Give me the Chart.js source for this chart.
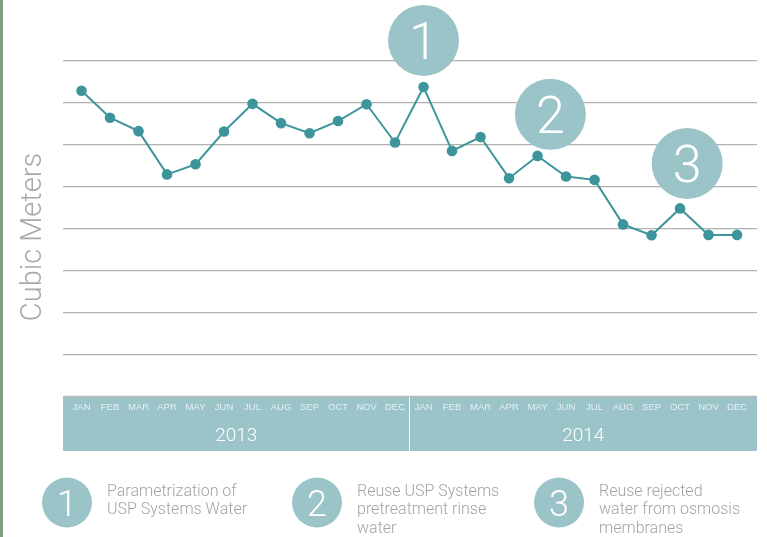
<!DOCTYPE html>
<html>
<head>
<meta charset="utf-8">
<title>Water consumption</title>
<script src="https://cdn.jsdelivr.net/npm/chart.js@4.4.1/dist/chart.umd.min.js"></script>
<style>
    html, body { margin: 0; padding: 0; background: #ffffff; }
    #wrap { position: relative; width: 767px; height: 537px; }
</style>
</head>
<body>
<div id="wrap"><canvas id="usageChart" width="767" height="537"></canvas></div>
<script>
// Monthly water usage, 2013 - 2014
const months = ['JAN', 'FEB', 'MAR', 'APR', 'MAY', 'JUN', 'JUL', 'AUG', 'SEP', 'OCT', 'NOV', 'DEC'];
const years = ['2013', '2014'];
const usage2013 = [7.29, 6.65, 6.33, 5.30, 5.54, 6.32, 6.98, 6.52, 6.28, 6.57, 6.97, 6.06];
const usage2014 = [7.38, 5.86, 6.19, 5.21, 5.74, 5.25, 5.17, 4.11, 3.85, 4.49, 3.86, 3.86];

// Milestones: month index along the axis and level on the value scale
const milestoneAt = [12, 16.45, 21.25];
const milestoneLevel = [8.49, 6.73, 5.56];
const milestoneNotes = [
    ['Parametrization of', 'USP Systems Water'],
    ['Reuse USP Systems', 'pretreatment rinse', 'water'],
    ['Reuse rejected', 'water from osmosis', 'membranes']
];

const TEAL = '#3d959b';
const BUBBLE = '#9bc4c9';
const LIGHT_FONT = 'Roboto, "Liberation Sans", sans-serif';

const points = usage2013.concat(usage2014).map((v, i) => ({ x: i, y: v }));

// Draws the month/year band, axis title, milestone bubbles and the notes row
const decorations = {
    id: 'decorations',
    afterDraw(chart) {
        const ctx = chart.ctx;
        const area = chart.chartArea;
        const xs = chart.scales.x;
        const ys = chart.scales.y;

        ctx.save();

        // thin green edge on the left
        ctx.fillStyle = '#7f9f84';
        ctx.fillRect(0, 0, 3, chart.height);

        // month band under the plot
        const bandTop = area.bottom;
        const bandBottom = 451;
        ctx.fillStyle = BUBBLE;
        ctx.fillRect(area.left, bandTop, area.right - area.left, bandBottom - bandTop);
        ctx.strokeStyle = '#b8b8b8';
        ctx.lineWidth = 1.5;
        ctx.beginPath();
        ctx.moveTo(area.left, bandTop - 0.5);
        ctx.lineTo(area.right, bandTop - 0.5);
        ctx.stroke();

        // divider between the two years
        const mid = Math.round(xs.getPixelForValue(months.length - 0.5)) + 0.5;
        ctx.strokeStyle = '#ffffff';
        ctx.lineWidth = 1;
        ctx.beginPath();
        ctx.moveTo(mid, bandTop);
        ctx.lineTo(mid, bandBottom);
        ctx.stroke();

        // month labels
        ctx.fillStyle = 'rgba(255,255,255,0.75)';
        ctx.font = '9.5px "Liberation Sans", Arial, sans-serif';
        ctx.textAlign = 'center';
        ctx.textBaseline = 'alphabetic';
        years.forEach((yr, yi) => {
            months.forEach((m, mi) => {
                const px = xs.getPixelForValue(yi * months.length + mi);
                ctx.fillText(m, px, 410);
            });
        });

        // year labels, centred in each half of the band
        ctx.fillStyle = '#ffffff';
        ctx.font = '300 19px ' + LIGHT_FONT;
        const halves = [[area.left, mid], [mid, area.right]];
        years.forEach((yr, yi) => {
            ctx.fillText(yr, (halves[yi][0] + halves[yi][1]) / 2, 441);
        });

        // y axis title
        ctx.save();
        ctx.translate(34, 237);
        ctx.rotate(-Math.PI / 2);
        ctx.fillStyle = '#a9a9a9';
        ctx.font = '300 29px ' + LIGHT_FONT;
        ctx.textAlign = 'center';
        ctx.textBaseline = 'middle';
        ctx.fillText('Cubic Meters', 0, 0);
        ctx.restore();

        // milestone bubbles above the line
        milestoneAt.forEach((at, i) => {
            const cx = xs.getPixelForValue(at);
            const cy = ys.getPixelForValue(milestoneLevel[i]);
            ctx.fillStyle = BUBBLE;
            ctx.beginPath();
            ctx.arc(cx, cy, 35.5, 0, Math.PI * 2);
            ctx.fill();
            ctx.fillStyle = '#ffffff';
            ctx.font = '300 52px ' + LIGHT_FONT;
            ctx.textAlign = 'center';
            ctx.textBaseline = 'alphabetic';
            ctx.fillText(String(i + 1), cx, cy + 18.5);
        });

        // notes row at the bottom
        const noteX = [67, 317, 559];
        milestoneNotes.forEach((lines, i) => {
            const cx = noteX[i];
            const cy = 502.5;
            ctx.fillStyle = BUBBLE;
            ctx.beginPath();
            ctx.arc(cx, cy, 25, 0, Math.PI * 2);
            ctx.fill();
            ctx.fillStyle = '#ffffff';
            ctx.font = '300 36px ' + LIGHT_FONT;
            ctx.textAlign = 'center';
            ctx.fillText(String(i + 1), cx, cy + 13);

            ctx.fillStyle = '#a3a3a3';
            ctx.font = '300 16px ' + LIGHT_FONT;
            ctx.textAlign = 'left';
            lines.forEach((t, li) => {
                ctx.fillText(t, cx + 40, 495.5 + li * 18.5);
            });
        });

        ctx.restore();
    }
};

new Chart(document.getElementById('usageChart'), {
    type: 'line',
    data: {
        datasets: [{
            data: points,
            borderColor: TEAL,
            borderWidth: 2,
            backgroundColor: TEAL,
            pointBackgroundColor: TEAL,
            pointBorderWidth: 0,
            pointRadius: 5.3,
            tension: 0,
            fill: false
        }]
    },
    options: {
        responsive: false,
        animation: false,
        events: [],
        layout: { padding: { left: 63, right: 10, top: 61, bottom: 140 } },
        plugins: {
            legend: { display: false },
            tooltip: { enabled: false }
        },
        scales: {
            x: {
                type: 'linear',
                display: false,
                min: -0.65,
                max: 23.7
            },
            y: {
                min: 0,
                max: 8,
                border: { display: false },
                ticks: { display: false, stepSize: 1 },
                grid: { color: '#b0b0b0', lineWidth: 1.2, drawTicks: false }
            }
        }
    },
    plugins: [decorations]
});
</script>
</body>
</html>
